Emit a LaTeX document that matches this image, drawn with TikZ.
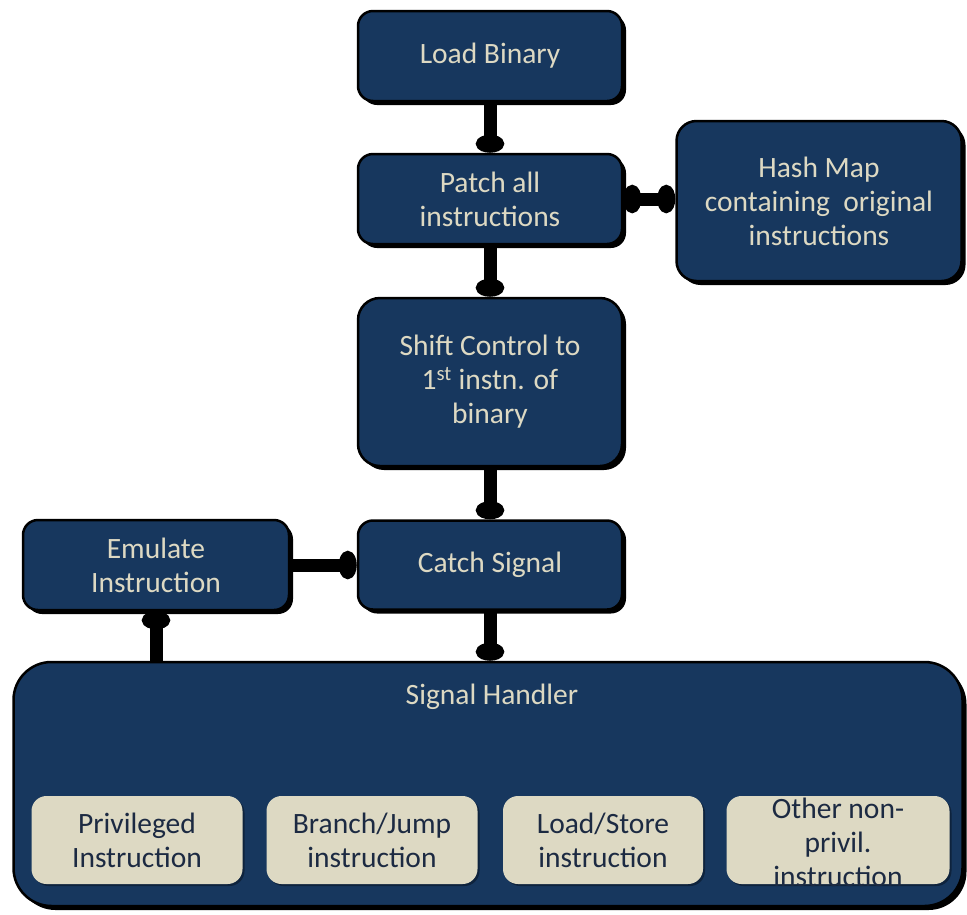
\documentclass[tikz,border=0pt]{standalone}
\usepackage{fontspec}
\setmainfont{Carlito}
\usetikzlibrary{arrows.meta,shadows,positioning}
\definecolor{navy}{HTML}{17375E}
\definecolor{sand}{HTML}{DDD9C3}
\definecolor{inktext}{HTML}{1C2A42}
\begin{document}
\begin{tikzpicture}[x=1pt,y=-1pt,
  boxfont/.style={font=\fontsize{29.5}{34}\selectfont},
  darkbox/.style={draw=black, line width=2.5pt, fill=navy, rounded corners=15pt,
    text=sand, align=center, inner sep=0pt, boxfont,
    drop shadow={shadow xshift=4pt, shadow yshift=-4pt, fill=black, opacity=1}},
  sandbox/.style={fill=sand, rounded corners=15pt, text=inktext, align=center,
    inner sep=0pt, boxfont,
    drop shadow={shadow xshift=2pt, shadow yshift=-2pt, fill=black, opacity=0.35}},
  conn/.style={line width=13pt, draw=black, -{Circle[length=18pt,width=28pt]}},
  biconn/.style={line width=13pt, draw=black, {Circle[length=18pt,width=28pt]}-{Circle[length=18pt,width=28pt]}}
]
\useasboundingbox (0,0) rectangle (967,914);

% main flow boxes
\node[darkbox, minimum width=264pt, minimum height=90pt] (load)  at (490,56)  {Load Binary};
\node[darkbox, minimum width=264pt, minimum height=90pt] (patch) at (490,199) {Patch all\\instructions};
\node[darkbox, minimum width=285pt, minimum height=160pt, rounded corners=20pt] (hash) at (819,201)
  {Hash Map\\containing~ original\\instructions};
\node[darkbox, minimum width=264pt, minimum height=168pt, rounded corners=22pt] (shift) at (490,382)
  {Shift Control to\\1\textsuperscript{st} instn. of\\binary};
\node[darkbox, minimum width=264pt, minimum height=89pt] (catch) at (490,565) {Catch Signal};
\node[darkbox, minimum width=266pt, minimum height=90pt] (emul)  at (156,565) {Emulate\\Instruction};

% signal handler container
\node[darkbox, minimum width=949pt, minimum height=244pt, rounded corners=38pt] (sig) at (488,784) {};
\node[text=sand, boxfont] (sigtitle) at (492,697) {Signal Handler};

% instruction classes
\node[sandbox, minimum width=211pt, minimum height=88pt] (priv)  at (137,840) {Privileged\\Instruction};
\node[sandbox, minimum width=211pt, minimum height=88pt] (jump)  at (372,840) {Branch/Jump\\instruction};
\node[sandbox, minimum width=200pt, minimum height=88pt] (ldst)  at (603,840) {Load/Store\\instruction};
\node[sandbox, minimum width=223pt, minimum height=88pt] (other) at (838,840) {};
\node[text=inktext, align=center, boxfont] (othertext) at (838,842)
  {Other non-\\privil.\\instruction};

% connectors
\draw[conn] (load.south) -- (patch.north);
\draw[biconn] (patch.east) -- (patch.east -| hash.west);
\draw[conn] (patch.south) -- (shift.north);
\draw[conn] (shift.south) -- (catch.north);
\draw[conn] (emul.east) -- (catch.west);
\draw[conn] (catch.south) -- (catch.south |- sig.north);
\draw[conn] (emul.south |- sig.north) -- (emul.south);
\end{tikzpicture}
\end{document}
